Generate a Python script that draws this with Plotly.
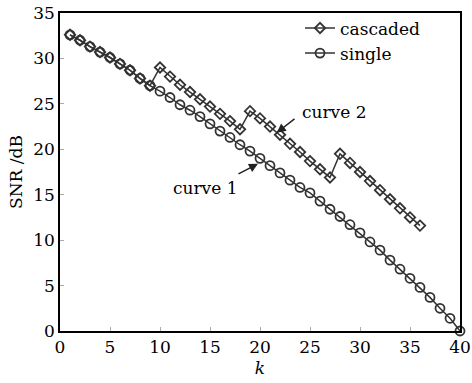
import plotly.graph_objects as go

k_single = list(range(1, 41))
snr_single = [32.6, 32.0, 31.3, 30.7, 30.1, 29.4, 28.7, 27.8, 27.0, 26.4,
              25.7, 24.9, 24.3, 23.6, 22.8, 22.0, 21.3, 20.5, 19.8, 19.0,
              18.2, 17.4, 16.6, 15.8, 15.2, 14.3, 13.4, 12.6, 11.7, 10.8,
              9.8, 8.9, 7.8, 6.8, 5.8, 4.8, 3.7, 2.5, 1.4, 0.0]

k_casc = list(range(1, 37))
snr_casc = [32.6, 32.0, 31.3, 30.7, 30.1, 29.4, 28.7, 27.8, 27.0, 29.0,
            28.0, 27.1, 26.3, 25.5, 24.7, 23.9, 23.1, 22.2, 24.2, 23.4,
            22.5, 21.6, 20.6, 19.7, 18.7, 17.8, 16.9, 19.5, 18.5, 17.5,
            16.5, 15.5, 14.5, 13.5, 12.5, 11.6]

x_ticks = [0, 5, 10, 15, 20, 25, 30, 35, 40]
y_ticks = [0, 5, 10, 15, 20, 25, 30, 35]

FONT = "DejaVu Serif"
C = "#333333"

fig = go.Figure()
fig.add_trace(go.Scatter(
    x=k_casc, y=snr_casc, mode="lines+markers", name="cascaded",
    line=dict(color=C, width=1.5),
    marker=dict(symbol="diamond-open", size=8, color=C, line=dict(width=1.8, color=C)),
    cliponaxis=False))
fig.add_trace(go.Scatter(
    x=k_single, y=snr_single, mode="lines+markers", name="single",
    line=dict(color=C, width=1.5),
    marker=dict(symbol="circle-open", size=9, color=C, line=dict(width=1.8, color=C)),
    cliponaxis=False))

# annotations text
fig.add_annotation(x=27.4, y=24.15, text="curve 2", showarrow=False,
                   font=dict(family=FONT, size=17, color="black"))
fig.add_annotation(x=14.5, y=15.77, text="curve 1", showarrow=False,
                   font=dict(family=FONT, size=17, color="black"))
# arrows
fig.add_annotation(x=21.68, y=21.83, ax=23.6, ay=23.48, axref="x", ayref="y",
                   text="", showarrow=True, arrowhead=2, arrowsize=1.2,
                   arrowwidth=1.5, arrowcolor="#222")
fig.add_annotation(x=19.8, y=18.41, ax=17.7, ay=17.2, axref="x", ayref="y",
                   text="", showarrow=True, arrowhead=2, arrowsize=1.2,
                   arrowwidth=1.5, arrowcolor="#222")

axis_common = dict(showgrid=False, zeroline=False, showline=True, linecolor="black",
                   linewidth=1.5, mirror=True, ticks="inside", ticklen=4,
                   tickcolor="#aaaaaa", tickwidth=1, ticklabeloverflow="allow",
                   automargin=False,
                   tickfont=dict(family=FONT, size=17, color="black"))

fig.update_xaxes(range=[0, 40], tickvals=x_ticks,
                 title=dict(text="<i>k</i>", font=dict(family=FONT, size=17, color="black"), standoff=6),
                 **axis_common)
fig.update_yaxes(range=[0, 35], tickvals=y_ticks,
                 title=dict(text="SNR /dB", font=dict(family=FONT, size=17, color="black"), standoff=6),
                 **axis_common)

fig.update_layout(
    width=472, height=383,
    margin=dict(l=60, r=12, t=13, b=52, autoexpand=False),
    paper_bgcolor="white", plot_bgcolor="white",
    showlegend=True,
    legend=dict(x=0.6, y=1.008, xanchor="left", yanchor="top",
                bgcolor="rgba(0,0,0,0)", font=dict(family=FONT, size=17, color="black"),
                tracegroupgap=0, itemwidth=30),
)

fig.write_html("out.html")
